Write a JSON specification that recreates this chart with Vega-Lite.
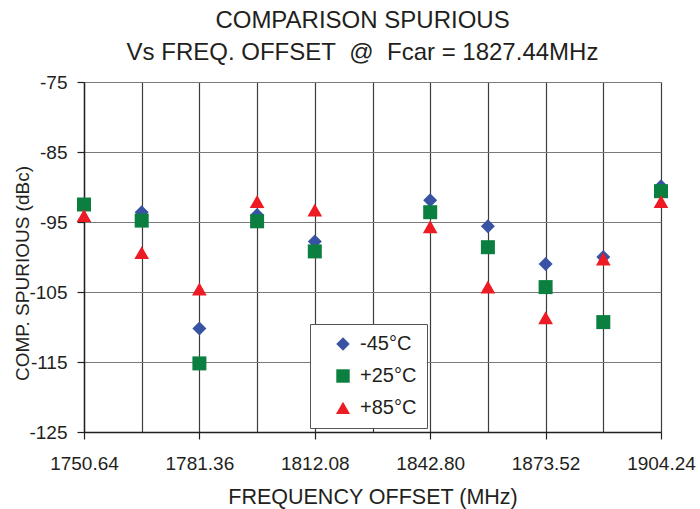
{
  "$schema": "https://vega.github.io/schema/vega-lite/v6.json",
  "width": 577,
  "height": 350,
  "autosize": {"type": "none"},
  "padding": {"left": 84, "top": 82, "right": 39, "bottom": 77},
  "background": "white",
  "title": {
    "text": ["COMPARISON SPURIOUS", "Vs FREQ. OFFSET\u00a0\u00a0@\u00a0\u00a0Fcar = 1827.44MHz"],
    "font": "Liberation Sans",
    "fontSize": 24,
    "fontWeight": "normal",
    "color": "#231f20",
    "anchor": "middle",
    "frame": "group",
    "lineHeight": 32,
    "offset": 8,
    "dx": -10
  },
  "data": {
    "values": [
      {"freq": 1750.64, "spur": -92.6, "temp": "-45°C"},
      {"freq": 1766.00, "spur": -93.6, "temp": "-45°C"},
      {"freq": 1781.36, "spur": -110.2, "temp": "-45°C"},
      {"freq": 1796.72, "spur": -94.0, "temp": "-45°C"},
      {"freq": 1812.08, "spur": -97.8, "temp": "-45°C"},
      {"freq": 1842.80, "spur": -91.9, "temp": "-45°C"},
      {"freq": 1858.16, "spur": -95.6, "temp": "-45°C"},
      {"freq": 1873.52, "spur": -101.0, "temp": "-45°C"},
      {"freq": 1888.88, "spur": -100.0, "temp": "-45°C"},
      {"freq": 1904.24, "spur": -89.9, "temp": "-45°C"},
      {"freq": 1750.64, "spur": -92.5, "temp": "+25°C"},
      {"freq": 1766.00, "spur": -94.8, "temp": "+25°C"},
      {"freq": 1781.36, "spur": -115.2, "temp": "+25°C"},
      {"freq": 1796.72, "spur": -94.9, "temp": "+25°C"},
      {"freq": 1812.08, "spur": -99.2, "temp": "+25°C"},
      {"freq": 1842.80, "spur": -93.6, "temp": "+25°C"},
      {"freq": 1858.16, "spur": -98.6, "temp": "+25°C"},
      {"freq": 1873.52, "spur": -104.3, "temp": "+25°C"},
      {"freq": 1888.88, "spur": -109.3, "temp": "+25°C"},
      {"freq": 1904.24, "spur": -90.6, "temp": "+25°C"},
      {"freq": 1750.64, "spur": -94.1, "temp": "+85°C"},
      {"freq": 1766.00, "spur": -99.4, "temp": "+85°C"},
      {"freq": 1781.36, "spur": -104.6, "temp": "+85°C"},
      {"freq": 1796.72, "spur": -92.1, "temp": "+85°C"},
      {"freq": 1812.08, "spur": -93.3, "temp": "+85°C"},
      {"freq": 1842.80, "spur": -95.7, "temp": "+85°C"},
      {"freq": 1858.16, "spur": -104.3, "temp": "+85°C"},
      {"freq": 1873.52, "spur": -108.7, "temp": "+85°C"},
      {"freq": 1888.88, "spur": -100.3, "temp": "+85°C"},
      {"freq": 1904.24, "spur": -92.1, "temp": "+85°C"}
    ]
  },
  "mark": {"type": "point", "filled": true, "opacity": 1, "size": 196},
  "encoding": {
    "x": {
      "field": "freq",
      "type": "quantitative",
      "scale": {"domain": [1750.64, 1904.24], "nice": false, "zero": false},
      "axis": {
        "values": [1750.64, 1766.00, 1781.36, 1796.72, 1812.08, 1827.44, 1842.80, 1858.16, 1873.52, 1888.88, 1904.24],
        "format": ".2f",
        "labelExpr": "abs((datum.value - 1750.64) / 30.72 - round((datum.value - 1750.64) / 30.72)) < 0.01 ? datum.label : ''",
        "grid": true,
        "gridColor": "#3c3c3c",
        "gridWidth": 1.2,
        "domainColor": "#231f20",
        "domainWidth": 1.4,
        "tickColor": "#231f20",
        "tickWidth": 1.2,
        "tickSize": 7,
        "tickOpacity": {"condition": {"test": "abs((datum.value - 1750.64) / 30.72 - round((datum.value - 1750.64) / 30.72)) < 0.01", "value": 1}, "value": 0},
        "labelFont": "Liberation Sans",
        "labelFontSize": 19,
        "labelColor": "#231f20",
        "labelPadding": 15,
        "labelFlush": false,
        "labelOverlap": false,
        "title": "FREQUENCY OFFSET (MHz)",
        "titleFont": "Liberation Sans",
        "titleFontSize": 21.5,
        "titleFontWeight": "normal",
        "titleColor": "#231f20",
        "titleBaseline": "alphabetic",
        "titleY": 71
      }
    },
    "y": {
      "field": "spur",
      "type": "quantitative",
      "scale": {"domain": [-125, -75], "nice": false, "zero": false},
      "axis": {
        "values": [-125, -115, -105, -95, -85, -75],
        "labelExpr": "'' + datum.value",
        "grid": true,
        "gridColor": "#7a7a7a",
        "gridWidth": 1.2,
        "domainColor": "#231f20",
        "domainWidth": 1.4,
        "tickColor": "#231f20",
        "tickWidth": 1.2,
        "tickSize": 7,
        "labelFont": "Liberation Sans",
        "labelFontSize": 19,
        "labelColor": "#231f20",
        "labelPadding": 10,
        "labelFlush": false,
        "labelOverlap": false,
        "title": "COMP. SPURIOUS (dBc)",
        "titleFont": "Liberation Sans",
        "titleFontSize": 19,
        "titleFontWeight": "normal",
        "titleColor": "#231f20",
        "titleAngle": -90,
        "titleAlign": "center",
        "titleBaseline": "alphabetic",
        "titleX": -56,
        "titleY": 191
      }
    },
    "color": {
      "field": "temp",
      "type": "nominal",
      "scale": {"domain": ["-45°C", "+25°C", "+85°C"], "range": ["#3953a4", "#0a7f3f", "#ed1c24"]},
      "legend": {
        "title": null,
        "orient": "none",
        "legendX": 226,
        "legendY": 242,
        "fillColor": "white",
        "strokeColor": "#555555",
        "padding": 10,
        "symbolOffset": 13,
        "symbolSize": 180,
        "symbolStrokeWidth": 0,
        "labelFont": "Liberation Sans",
        "labelFontSize": 20,
        "labelColor": "#231f20",
        "labelOffset": 7,
        "labelExpr": "datum.label + '\u00a0\u00a0\u00a0\u00a0'",
        "rowPadding": 12
      }
    },
    "shape": {
      "field": "temp",
      "type": "nominal",
      "scale": {"domain": ["-45°C", "+25°C", "+85°C"], "range": ["diamond", "square", "M0,-0.95L1.05,0.9L-1.05,0.9Z"]},
      "legend": {
        "title": null,
        "orient": "none",
        "legendX": 226,
        "legendY": 242,
        "fillColor": "white",
        "strokeColor": "#555555",
        "padding": 10,
        "symbolOffset": 13,
        "symbolSize": 180,
        "symbolStrokeWidth": 0,
        "labelFont": "Liberation Sans",
        "labelFontSize": 20,
        "labelColor": "#231f20",
        "labelOffset": 7,
        "labelExpr": "datum.label + '\u00a0\u00a0\u00a0\u00a0'",
        "rowPadding": 12
      }
    }
  },
  "config": {"view": {"stroke": null}}
}
